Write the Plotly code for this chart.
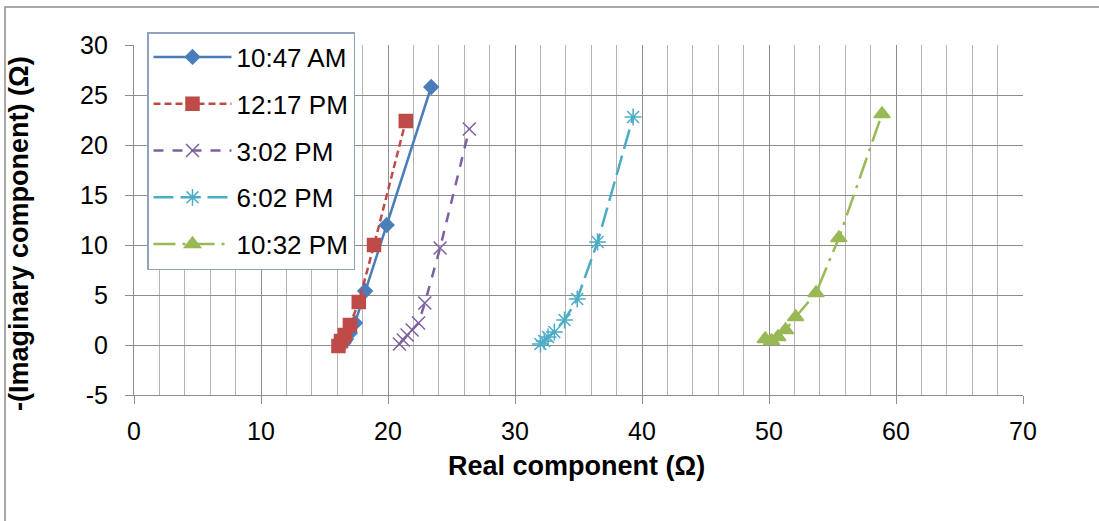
import plotly.graph_objects as go

series_names = ["10:47 AM", "12:17 PM", "3:02 PM", "6:02 PM", "10:32 PM"]

x_1047 = [16.5, 16.7, 17.0, 17.4, 18.2, 19.9, 23.4]
y_1047 = [0.2, 0.6, 1.2, 2.2, 5.4, 12.0, 25.8]

x_1217 = [16.1, 16.3, 16.6, 17.0, 17.7, 18.9, 21.4]
y_1217 = [-0.1, 0.4, 1.0, 2.0, 4.3, 10.0, 22.4]

x_302 = [20.9, 21.2, 21.5, 21.9, 22.4, 22.9, 24.1, 26.4]
y_302 = [0.1, 0.5, 1.0, 1.5, 2.2, 4.2, 9.7, 21.6]

x_602 = [32.0, 32.3, 32.6, 33.1, 33.9, 34.9, 36.5, 39.3]
y_602 = [0.1, 0.4, 0.8, 1.3, 2.5, 4.6, 10.3, 22.8]

x_1032 = [49.7, 50.2, 50.7, 51.3, 52.1, 53.7, 55.5, 58.9]
y_1032 = [0.6, 0.4, 0.8, 1.5, 2.8, 5.2, 10.7, 23.1]

y_tick_vals = [-5, 0, 5, 10, 15, 20, 25, 30]
y_tick_text = ["-5", "0", "5", "10", "15", "20", "25", "30"]

x_title = "<b>Real component (Ω)</b>"
y_title = "<b>-(Imaginary component) (Ω)</b>"

xs = [x_1047, x_1217, x_302, x_602, x_1032]
ys = [y_1047, y_1217, y_302, y_602, y_1032]

colors = ["#4A7EBB", "#BE4B48", "#7D60A0", "#4BACC6", "#98B954"]
dashes = ["solid", "7px,4px", "10px,9px", "20px,7px", "22px,7px,3px,7px"]
symbols = ["diamond", "square", "x-thin-open", "asterisk-open", "triangle-up"]
sizes = [11, 13, 13, 14, 14]

fig = go.Figure()
for i, name in enumerate(series_names):
    fig.add_trace(go.Scatter(
        x=xs[i], y=ys[i], name=name, mode="lines+markers",
        legendgroup=name,
        line=dict(color=colors[i], width=2.5, dash=dashes[i]),
        marker=dict(symbol=symbols[i], size=sizes[i], color=colors[i],
                    line=dict(color=colors[i], width=1.5)),
    ))

L, R, T, B = 134, 76, 45, 126
W, H = 1099, 521
pw, ph = W - L - R, H - T - B

fig.update_layout(
    width=W, height=H,
    margin=dict(l=L, r=R, t=T, b=B, autoexpand=False),
    paper_bgcolor="white", plot_bgcolor="white",
    font=dict(family="Liberation Sans, Arial, sans-serif", size=24, color="#000"),
    showlegend=True,
    legend=dict(
        x=(147 - L) / pw, y=1 + (T - 32) / ph, xanchor="left", yanchor="top",
        bgcolor="white", bordercolor="#8EA2BC", borderwidth=1.5,
        font=dict(size=26), tracegroupgap=10, itemwidth=78,
    ),
    xaxis=dict(
        range=[0, 70], dtick=10, tick0=0, automargin=False,
        showgrid=True, gridcolor="#8C8C8C", gridwidth=1.2,
        minor=dict(dtick=2, showgrid=True, gridcolor="#B4B4B4", gridwidth=1),
        showline=True, linecolor="#8C8C8C", linewidth=1.2,
        ticks="outside", ticklen=8, tickcolor="#8C8C8C",
        ticklabelstandoff=6,
        zeroline=False,
        tickfont=dict(size=25),
    ),
    yaxis=dict(
        range=[-5, 30], tickmode="array", tickvals=y_tick_vals, ticktext=y_tick_text,
        automargin=False,
        showgrid=True, gridcolor="#8C8C8C", gridwidth=1.2,
        showline=True, linecolor="#8C8C8C", linewidth=1.2,
        ticks="outside", ticklen=8, tickcolor="#8C8C8C",
        ticklabelstandoff=12,
        zeroline=False,
        tickfont=dict(size=25),
    ),
)

# axis titles as annotations placed in pixel terms
fig.add_annotation(text=x_title, xref="paper", yref="paper",
                   x=(576 - L) / pw, y=1 - (466 - T) / ph,
                   xanchor="center", yanchor="middle", showarrow=False,
                   font=dict(size=27))
fig.add_annotation(text=y_title, xref="paper", yref="paper",
                   x=(19 - L) / pw, y=1 - (234 - T) / ph,
                   xanchor="center", yanchor="middle", showarrow=False, textangle=-90,
                   font=dict(size=27))

# outer chart border (left and top edges visible)
x0 = (5 - L) / pw
y0 = 1 + (T - 7) / ph
x1 = (W + 10 - L) / pw
y1 = -(H + 10 - (H - B)) / ph
fig.add_shape(type="rect", xref="paper", yref="paper", x0=x0, y0=y1, x1=x1, y1=y0,
              line=dict(color="#8C8C8C", width=1.5), layer="below")

fig.write_html("out.html", config={"displayModeBar": False},
               post_script="document.body.style.margin='0';")
